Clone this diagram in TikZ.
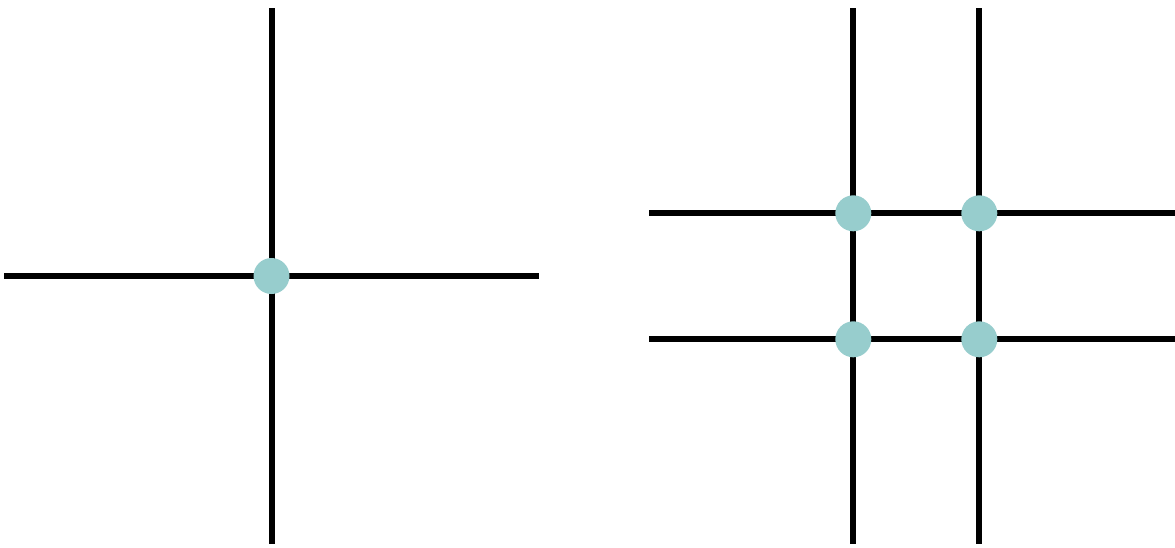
\documentclass[tikz,border=0pt]{standalone}
\definecolor{dotteal}{HTML}{97CDCD}
\begin{document}
\begin{tikzpicture}[x=1pt,y=-1pt,
  gridline/.style={line width=6pt,black},
  junction/.style={circle,fill=dotteal,minimum size=36pt,inner sep=0pt}]
\useasboundingbox (0,0) rectangle (1175,547);
% left figure
\coordinate (lt) at (271.5,8);
\coordinate (lb) at (271.5,544);
\coordinate (ll) at (4,276);
\coordinate (lr) at (539,276);
\draw[gridline] (lt) -- (lb);
\draw[gridline] (ll) -- (lr);
\node[junction] (c) at (271.5,276) {};
% right figure
\coordinate (v1t) at (853.3,8);
\coordinate (v1b) at (853.3,544);
\coordinate (v2t) at (979.3,8);
\coordinate (v2b) at (979.3,544);
\coordinate (h1l) at (649,213.3);
\coordinate (h1r) at (1175,213.3);
\coordinate (h2l) at (649,339.3);
\coordinate (h2r) at (1175,339.3);
\draw[gridline] (v1t) -- (v1b);
\draw[gridline] (v2t) -- (v2b);
\draw[gridline] (h1l) -- (h1r);
\draw[gridline] (h2l) -- (h2r);
\node[junction] (a) at (853.3,213.3) {};
\node[junction] (b) at (979.3,213.3) {};
\node[junction] (d) at (853.3,339.3) {};
\node[junction] (e) at (979.3,339.3) {};
\end{tikzpicture}
\end{document}
